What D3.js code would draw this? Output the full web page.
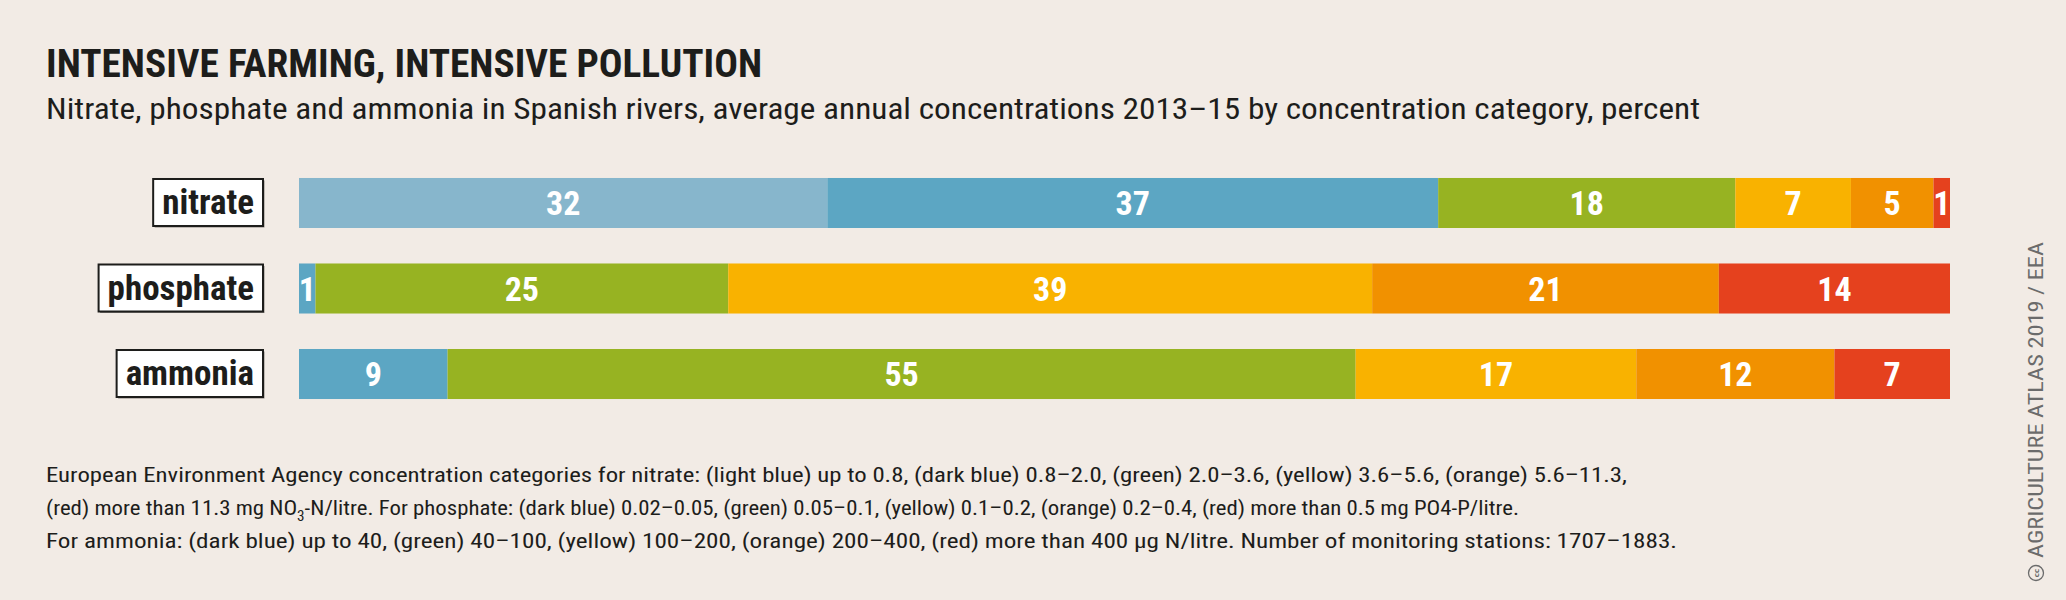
<!DOCTYPE html>
<html>
<head>
<meta charset="utf-8">
<script src="https://cdn.jsdelivr.net/npm/d3@7"></script>
<style>
  body { margin: 0; background: #f2ebe5; }
  svg { display: block; }
</style>
</head>
<body>
<div id="chart"></div>
<script>
// Chart values
var substances = ["nitrate", "phosphate", "ammonia"];
var categories = ["light blue", "dark blue", "green", "yellow", "orange", "red"];
var nitrateValues = [32, 37, 18, 7, 5, 1];
var phosphateValues = [0, 1, 25, 39, 21, 14];
var ammoniaValues = [0, 9, 55, 17, 12, 7];
var categoryColors = ["#87b6cc", "#5ca6c3", "#97b322", "#f9b200", "#f19100", "#e5411e"];

var titleText = "INTENSIVE FARMING, INTENSIVE POLLUTION";
var subtitleText = "Nitrate, phosphate and ammonia in Spanish rivers, average annual concentrations 2013–15 by concentration category, percent";
var creditText = "AGRICULTURE ATLAS 2019 / EEA";

var svgWidth = 2066;
var svgHeight = 600;
var condFont = '"Roboto Condensed", "Liberation Sans Narrow", "DejaVu Sans Condensed", "Arial Narrow", sans-serif';

var svg = d3.select("#chart")
  .append("svg")
  .attr("width", svgWidth)
  .attr("height", svgHeight);

svg.append("rect")
  .attr("width", svgWidth)
  .attr("height", svgHeight)
  .attr("fill", "#f2ebe5");

// Build rows for the stack
var rows = substances.map(function (s, i) {
  var vals = [nitrateValues, phosphateValues, ammoniaValues][i];
  var row = { substance: s };
  categories.forEach(function (c, j) { row[c] = vals[j]; });
  return row;
});

var stacked = d3.stack().keys(categories)(rows);

var xScale = d3.scaleLinear()
  .domain([0, 100])
  .range([299, 1950]);

var yScale = d3.scaleBand()
  .domain(substances)
  .range([142.5, 434.5])
  .padding(0.415);

var colorScale = d3.scaleOrdinal()
  .domain(categories)
  .range(categoryColors);

// Title and subtitle
svg.append("text")
  .attr("x", 46)
  .attr("y", 77)
  .attr("font-family", condFont)
  .attr("font-weight", "bold")
  .attr("font-size", 39)
  .attr("fill", "#1d1d1b")
  .attr("textLength", 716)
  .attr("lengthAdjust", "spacingAndGlyphs")
  .text(titleText);

svg.append("text")
  .attr("x", 46)
  .attr("y", 119)
  .attr("font-family", condFont)
  .attr("font-size", 30)
  .attr("fill", "#1d1d1b")
  .attr("textLength", 1654)
  .attr("lengthAdjust", "spacingAndGlyphs")
  .text(subtitleText);

// Bars
var layers = svg.append("g").selectAll("g")
  .data(stacked)
  .enter()
  .append("g")
  .attr("fill", function (d) { return colorScale(d.key); });

layers.selectAll("rect")
  .data(function (d) { return d; })
  .enter()
  .append("rect")
  .attr("x", function (d) { return xScale(d[0]); })
  .attr("y", function (d) { return yScale(d.data.substance); })
  .attr("width", function (d) { return xScale(d[1]) - xScale(d[0]); })
  .attr("height", yScale.bandwidth());

// Value labels inside segments
layers.selectAll("text")
  .data(function (d) { return d.filter(function (p) { return p[1] - p[0] > 0; }); })
  .enter()
  .append("text")
  .attr("x", function (d) { return (xScale(d[0]) + xScale(d[1])) / 2; })
  .attr("y", function (d) { return yScale(d.data.substance) + yScale.bandwidth() / 2; })
  .attr("dy", "0.36em")
  .attr("text-anchor", "middle")
  .attr("font-family", condFont)
  .attr("font-weight", "bold")
  .attr("font-size", 34)
  .attr("fill", "#ffffff")
  .text(function (d) { return d[1] - d[0]; });

// Row labels in boxes
var labelGroup = svg.append("g");
substances.forEach(function (s) {
  var g = labelGroup.append("g");
  var cy = yScale(s) + yScale.bandwidth() / 2 - 1;
  var t = g.append("text")
    .attr("x", 254)
    .attr("y", cy)
    .attr("dy", "0.35em")
    .attr("text-anchor", "end")
    .attr("font-family", condFont)
    .attr("font-weight", "bold")
    .attr("font-size", 35)
    .attr("fill", "#1d1d1b")
    .text(s);
  var w = t.node().getComputedTextLength();
  // slight shadow under the box
  g.insert("rect", "text")
    .attr("x", 254 - w - 9 + 1.5)
    .attr("y", cy - 23 + 1.5)
    .attr("width", w + 18)
    .attr("height", 47)
    .attr("fill", "#8a8580");
  g.insert("rect", "text")
    .attr("x", 254 - w - 9)
    .attr("y", cy - 23)
    .attr("width", w + 18)
    .attr("height", 47)
    .attr("fill", "#ffffff")
    .attr("stroke", "#1d1d1b")
    .attr("stroke-width", 2);
});

// Footnote
var foot = svg.append("g")
  .attr("font-family", condFont)
  .attr("font-size", 21)
  .attr("fill", "#1d1d1b");

foot.append("text")
  .attr("x", 46).attr("y", 482)
  .attr("textLength", 1581)
  .attr("lengthAdjust", "spacingAndGlyphs")
  .text("European Environment Agency concentration categories for nitrate: (light blue) up to 0.8, (dark blue) 0.8–2.0, (green) 2.0–3.6, (yellow) 3.6–5.6, (orange) 5.6–11.3,");

var line2 = foot.append("text")
  .attr("x", 46).attr("y", 515)
  .attr("textLength", 1473)
  .attr("lengthAdjust", "spacingAndGlyphs");
line2.append("tspan").text("(red) more than 11.3 mg NO");
line2.append("tspan").attr("dy", 6).attr("font-size", 14).text("3");
line2.append("tspan").attr("dy", -6).text("-N/litre. For phosphate: (dark blue) 0.02–0.05, (green) 0.05–0.1, (yellow) 0.1–0.2, (orange) 0.2–0.4, (red) more than 0.5 mg PO4-P/litre.");

foot.append("text")
  .attr("x", 46).attr("y", 548)
  .attr("textLength", 1631)
  .attr("lengthAdjust", "spacingAndGlyphs")
  .text("For ammonia: (dark blue) up to 40, (green) 40–100, (yellow) 100–200, (orange) 200–400, (red) more than 400 µg N/litre. Number of monitoring stations: 1707–1883.");

// Credit, rotated
var credit = svg.append("g")
  .attr("transform", "translate(2043, 580) rotate(-90)");
credit.append("circle")
  .attr("cx", 7).attr("cy", -7)
  .attr("r", 7.5)
  .attr("fill", "none")
  .attr("stroke", "#6b6b6b")
  .attr("stroke-width", 1.3);
credit.append("text")
  .attr("x", 7).attr("y", -4)
  .attr("text-anchor", "middle")
  .attr("font-family", "DejaVu Sans, sans-serif")
  .attr("font-size", 7)
  .attr("font-weight", "bold")
  .attr("fill", "#6b6b6b")
  .text("cc");
credit.append("text")
  .attr("x", 22).attr("y", 0)
  .attr("font-family", condFont)
  .attr("font-size", 20)
  .attr("fill", "#6b6b6b")
  .attr("textLength", 316)
  .attr("lengthAdjust", "spacingAndGlyphs")
  .text(creditText);
</script>
</body>
</html>
